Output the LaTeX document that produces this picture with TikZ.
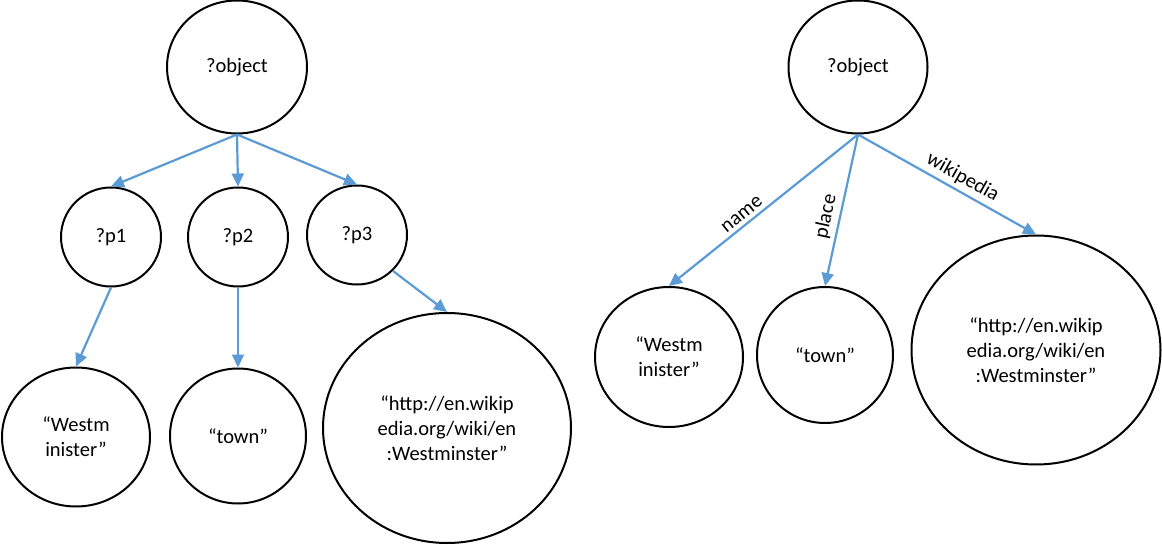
\documentclass[tikz,border=0pt]{standalone}
\usepackage{fontspec}
\setmainfont{Carlito}
\usetikzlibrary{shapes.geometric,arrows.meta}
\definecolor{linkblue}{RGB}{91,155,213}
\tikzset{
  bubble/.style={draw, ellipse, line width=2pt, inner sep=0pt, align=center},
  link/.style={draw=linkblue, line width=2.2pt, -{Triangle[length=13pt,width=12pt]}},
  tag/.style={font=\fontsize{20.5}{24}\selectfont, sloped, above, inner sep=4pt}
}
\begin{document}
\begin{tikzpicture}[x=1pt,y=1pt,font=\fontsize{20.5}{25}\selectfont]
\useasboundingbox (0,0) rectangle (1162,-545);

% Left: variables
\node[bubble, minimum width=140, minimum height=133] (obj1) at (237,-67) {?object};
\node[bubble, minimum width=100, minimum height=99] (p1) at (111,-237) {?p1};
\node[bubble, minimum width=100, minimum height=99] (p2) at (238,-237) {?p2};
\node[bubble, minimum width=100, minimum height=99] (p3) at (357,-235) {?p3};
\node[bubble, minimum width=148, minimum height=139] (west1) at (76,-437) {“Westm\\inister”};
\node[bubble, minimum width=136, minimum height=135] (town1) at (238,-436) {“town”};
\node[bubble, minimum width=248, minimum height=230] (wiki1) at (447,-428) {“http://en.wikip\\edia.org/wiki/en\\:Westminster”};

\draw[link] (obj1.south) -- (p1.north);
\draw[link] (obj1.south) -- (p2.north);
\draw[link] (obj1.south) -- (p3.north);
\draw[link] (p1.south) -- (west1.north);
\draw[link] (p2.south) -- (town1.north);
\draw[link] (p3.-45) -- (wiki1.north);

% Right: named properties
\node[bubble, minimum width=139, minimum height=133] (obj2) at (858,-67) {?object};
\node[bubble, minimum width=148, minimum height=140] (west2) at (669,-357) {“Westm\\inister”};
\node[bubble, minimum width=136, minimum height=136] (town2) at (825,-355) {“town”};
\node[bubble, minimum width=249, minimum height=229] (wiki2) at (1036,-350) {“http://en.wikip\\edia.org/wiki/en\\:Westminster”};

\draw[link] (obj2.south) -- node[tag, pos=0.58] {name} (west2.north);
\draw[link] (obj2.south) -- node[tag, pos=0.56] {place} (town2.north);
\draw[link] (obj2.south) -- node[tag, pos=0.55] {wikipedia} (wiki2.north);
\end{tikzpicture}
\end{document}
